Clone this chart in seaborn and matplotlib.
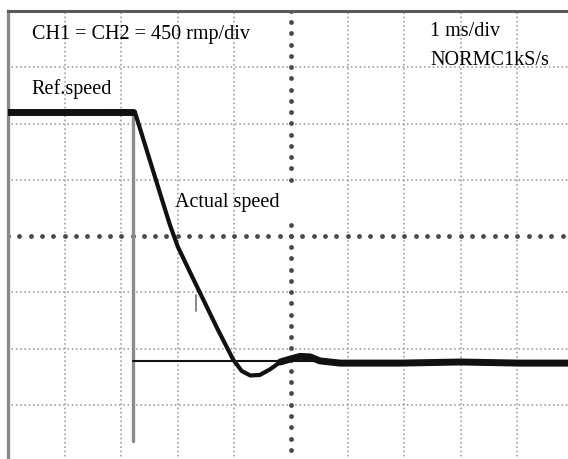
import numpy as np
import pandas as pd
import matplotlib
matplotlib.use("Agg")
import matplotlib.pyplot as plt
import seaborn as sns

# ---- data (oscilloscope divisions: x 0..10, y -4..4) ----
ref_high_x = [0.0, 2.21]
ref_high_y = [2.21, 2.21]
ref_step_x = [2.21, 2.21]
ref_step_y = [2.21, -3.65]
ref_low_x = [2.21, 10.0]
ref_low_y = [-2.22, -2.22]

actual_x = [0.0, 2.10, 2.24, 2.40, 2.56, 2.72, 2.86, 3.00, 3.20, 3.45, 3.70,
            3.98, 4.13, 4.28, 4.45, 4.63, 4.81, 4.98, 5.16, 5.34, 5.51, 5.87,
            6.93, 7.99, 9.05, 10.0]
actual_y = [2.21, 2.22, 2.21, 1.69, 1.17, 0.65, 0.20, -0.19, -0.61, -1.13,
            -1.65, -2.20, -2.40, -2.48, -2.47, -2.37, -2.24, -2.19, -2.14,
            -2.15, -2.22, -2.26, -2.26, -2.24, -2.26, -2.26]

glitch_x = [3.32, 3.32]
glitch_y = [-1.05, -1.33]

labels = {
    "ch": "CH1 = CH2 = 450 rmp/div",
    "ref": "Ref.speed",
    "act": "Actual speed",
    "tb": "1 ms/div",
    "mode": "NORMC1kS/s",
}

sns.set_theme(style="white")
plt.rcParams["font.family"] = ["Liberation Serif", "DejaVu Serif"]

fig = plt.figure(figsize=(5.68, 4.60), dpi=100)
ax = fig.add_axes([8 / 568, (460 - 462) / 460, 566 / 568, 450 / 460])
ax.set_xlim(0, 10)
ax.set_ylim(-4, 4)
ax.set_facecolor("white")

# ---- graticule ----
grid_kw = dict(color="#a0a0a0", lw=1.4, linestyle=(0, (0.01, 2.2)),
               dash_capstyle="round", zorder=1)
for gx in range(1, 10):
    if gx != 5:
        ax.axvline(gx, **grid_kw)
for gy in range(-3, 4):
    if gy != 0:
        ax.axhline(gy, **grid_kw)

ticks_x = np.arange(0, 10.01, 0.2)
ticks_y = np.arange(-4, 4.01, 0.2)
ax.scatter(ticks_x, np.zeros_like(ticks_x), s=12, color="#4a4a4a",
           linewidths=0, zorder=2)
mask = ~((ticks_y > 0.4) & (ticks_y < 0.95))
ax.scatter(np.full(mask.sum(), 5.0), ticks_y[mask], s=12, color="#4a4a4a",
           linewidths=0, zorder=2)

# ---- traces ----
sns.lineplot(x=ref_step_x, y=ref_step_y, ax=ax, color="#8a8a8a", lw=2.4,
             sort=False, estimator=None, zorder=3)
sns.lineplot(x=glitch_x, y=glitch_y, ax=ax, color="#8a8a8a", lw=1.4,
             sort=False, estimator=None, zorder=3)
sns.lineplot(x=ref_low_x, y=ref_low_y, ax=ax, color="#111111", lw=1.5,
             sort=False, estimator=None, zorder=4)
sns.lineplot(x=ref_high_x, y=ref_high_y, ax=ax, color="#111111", lw=5.0,
             sort=False, estimator=None, zorder=4)

df = pd.DataFrame({"x": actual_x, "y": actual_y})
sns.lineplot(data=df, x="x", y="y", ax=ax, color="#111111", lw=3.0,
             sort=False, estimator=None, zorder=5)
tail = df[df["x"] >= 4.8]
sns.lineplot(data=tail, x="x", y="y", ax=ax, color="#111111", lw=5.0,
             sort=False, estimator=None, zorder=5)

# ---- annotations ----
fs = 14.5
tk = dict(fontsize=fs, va="center", ha="left", color="black", zorder=6)
ax.text(0.42, 3.60, labels["ch"], **tk)
ax.text(0.42, 2.63, labels["ref"], **tk)
ax.text(2.95, 0.62, labels["act"], **tk)
ax.text(7.46, 3.66, labels["tb"], **tk)
ax.text(7.46, 3.13, labels["mode"], **tk)

ax.set_xticks([])
ax.set_yticks([])
ax.set_xlabel("")
ax.set_ylabel("")
for side in ["right", "bottom"]:
    ax.spines[side].set_visible(False)
ax.spines["top"].set_color("#5a5a5a")
ax.spines["top"].set_linewidth(2.2)
ax.spines["left"].set_color("#8a8a8a")
ax.spines["left"].set_linewidth(2.4)

fig.savefig("out.png", dpi=100)
